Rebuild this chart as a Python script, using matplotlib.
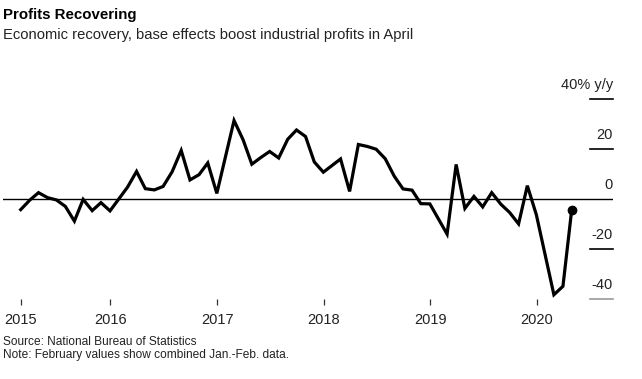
import pandas as pd
import matplotlib.pyplot as plt
import matplotlib.dates as mdates
import matplotlib.transforms as mtransforms
from matplotlib import font_manager

# Industrial profits, % y/y. January is missing (Feb shows combined Jan.-Feb.)
months = (
    ["2015-%02d" % m for m in range(2, 13)]
    + ["2016-%02d" % m for m in range(2, 13)]
    + ["2017-%02d" % m for m in range(2, 13)]
    + ["2018-%02d" % m for m in range(2, 13)]
    + ["2019-%02d" % m for m in range(2, 13)]
    + ["2020-02", "2020-03", "2020-04"]
)
values = [
    -4.2, -0.4, 2.6, 0.6, -0.3, -2.9, -8.8, -0.1, -4.6, -1.4, -4.7,
    4.8, 11.1, 4.2, 3.7, 5.1, 11.0, 19.5, 7.7, 9.8, 14.5, 2.3,
    31.5, 23.8, 14.0, 16.7, 19.1, 16.5, 24.0, 27.7, 25.1, 14.9, 10.8,
    16.1, 3.1, 21.9, 21.1, 20.0, 16.2, 9.2, 4.1, 3.6, -1.8, -1.9,
    -14.0, 13.9, -3.7, 1.1, -3.1, 2.6, -2.0, -5.3, -9.9, 5.4, -6.3,
    -38.3, -34.9, -4.3,
]
y_ticks = [40, 20, 0, -20, -40]
y_labels = ["40% y/y", "20", "0", "-20", "-40"]
x_ticks = ["2015-02", "2016-01-01", "2017-01-01", "2018-01-01", "2019-01-01", "2020-01-01"]
x_labels = ["2015", "2016", "2017", "2018", "2019", "2020"]

# pick a narrow font if available
names = {f.name for f in font_manager.fontManager.ttflist}
fam = ["Liberation Sans Narrow", "DejaVu Sans"] if "Liberation Sans Narrow" in names else ["Liberation Sans", "DejaVu Sans"]
plt.rcParams["font.family"] = fam

df = pd.DataFrame({"date": pd.to_datetime(months) + pd.offsets.MonthEnd(0), "value": values})

W, H = 642, 379
fig = plt.figure(figsize=(W / 100, H / 100), dpi=100)
ax = fig.add_axes([3 / W, 1 - 299 / H, 610 / W, 199.7 / H])

ax.plot(df["date"], df["value"], color="black", lw=2.3, solid_joinstyle="miter", zorder=3)
ax.plot(df["date"].iloc[-1], df["value"].iloc[-1], "o", color="black", ms=6, zorder=4)

# x limits so the first/last points sit where they do in the original
d0 = mdates.date2num(df["date"].iloc[0])
d1 = mdates.date2num(df["date"].iloc[-1])
ppd = (571.7 - 20.7) / (d1 - d0)
ax.set_xlim(d0 - (20.7 - 3) / ppd, d1 + (613 - 571.7) / ppd)
ax.set_ylim(-40, 40)

for s in ax.spines.values():
    s.set_visible(False)

# zero line and short right-hand grid ticks
ax.axhline(0, color="black", lw=1.0, zorder=2)
trans = mtransforms.blended_transform_factory(ax.transAxes, ax.transData)
for v, lab in zip(y_ticks, y_labels):
    if v != 0:
        col = "#999999" if v == -40 else "black"
        ax.plot([0.962, 1.0], [v, v], color=col, lw=1.2, transform=trans, clip_on=False)
    ax.annotate(lab, xy=(1.0, v), xycoords=trans, xytext=(0, 5), textcoords="offset points",
                ha="right", va="bottom", fontsize=10.5, color="#222222")
ax.set_yticks([])

xt = [mdates.date2num(df["date"].iloc[0])] + [mdates.date2num(pd.Timestamp(t)) for t in x_ticks[1:]]
ax.set_xticks(xt)
ax.set_xticklabels(x_labels, fontsize=10.5, color="#222222")
ax.tick_params(axis="x", length=4, width=0.9, color="#333333", pad=6)

fig.text(3 / W, 1 - 8 / H, "Profits Recovering", fontsize=10.8, fontweight="bold", va="top", ha="left")
fig.text(3 / W, 1 - 28 / H, "Economic recovery, base effects boost industrial profits in April",
         fontsize=10.6, va="top", ha="left", color="#222222")
fig.text(3 / W, 1 - 336 / H, "Source: National Bureau of Statistics", fontsize=8.6, va="top", ha="left", color="#222222")
fig.text(3 / W, 1 - 349 / H, "Note: February values show combined Jan.-Feb. data.", fontsize=8.6, va="top", ha="left", color="#222222")

fig.savefig("out.png", dpi=100)
